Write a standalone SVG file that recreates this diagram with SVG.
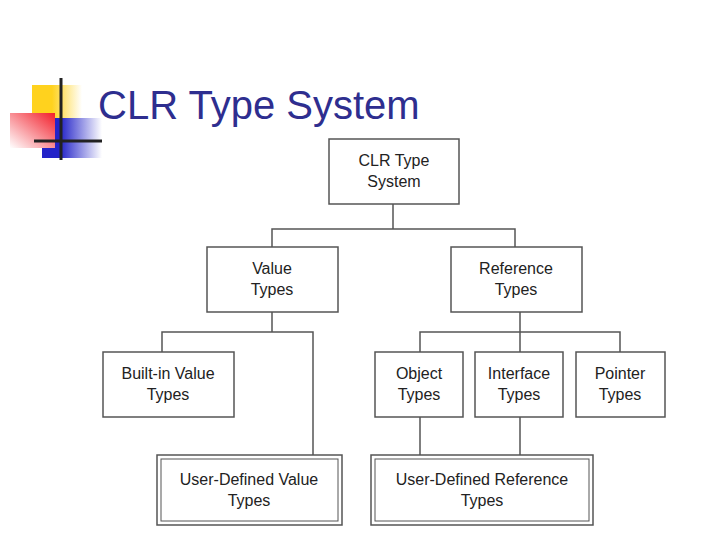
<svg xmlns="http://www.w3.org/2000/svg" width="720" height="540" viewBox="0 0 720 540">
<style>
.b{fill:#fff;stroke:#555;stroke-width:1.5}
.i{fill:none;stroke:#555;stroke-width:1}
.t{font-family:"Liberation Sans",Arial,sans-serif;font-size:16px;fill:#222;text-anchor:middle}
.c{fill:none;stroke:#555;stroke-width:1.5}
</style>
<defs>
<linearGradient id="gy" x1="0" x2="1"><stop offset="0.4" stop-color="#FFD21E"/><stop offset="1" stop-color="#fff"/></linearGradient>
<linearGradient id="gr" x1="1" y1="0" x2="0" y2="1"><stop offset="0" stop-color="#F21E2A"/><stop offset="1" stop-color="#fff"/></linearGradient>
<linearGradient id="gb" x1="0" x2="1"><stop offset="0.3" stop-color="#2323C8"/><stop offset="1" stop-color="#fff"/></linearGradient>
</defs>
<rect width="720" height="540" fill="#fff"/>
<g id="logo">
<rect x="32" y="85" width="50" height="36" fill="url(#gy)"/>
<rect x="42" y="118" width="60" height="40" fill="url(#gb)"/>
<rect x="10" y="113" width="45" height="35" fill="url(#gr)"/>
<line x1="61" y1="78" x2="61" y2="160" stroke="#222" stroke-width="3"/>
<line x1="34" y1="141" x2="102" y2="141" stroke="#222" stroke-width="3"/>
</g>
<text x="98" y="119" font-family="Liberation Sans,Arial,sans-serif" font-size="40" fill="#2E2E8F">CLR Type System</text>
<g id="connectors">
<path class="c" d="M393 204V229M272 247V229H515V247"/>
<path class="c" d="M272 312V332M162 352V332H313V455"/>
<path class="c" d="M520 312V352M420 352V332H620V352"/>
<path class="c" d="M420 417V455M520 417V455"/>
</g>
<g id="clr"><rect class="b" x="329" y="139" width="130" height="65"/><text class="t" x="394" y="166">CLR Type</text><text class="t" x="394" y="187">System</text></g>
<g id="value"><rect class="b" x="207" y="247" width="131" height="65"/><text class="t" x="272" y="274">Value</text><text class="t" x="272" y="295">Types</text></g>
<g id="reference"><rect class="b" x="451" y="247" width="131" height="65"/><text class="t" x="516" y="274">Reference</text><text class="t" x="516" y="295">Types</text></g>
<g id="builtin"><rect class="b" x="103" y="352" width="131" height="65"/><text class="t" x="168" y="379">Built-in Value</text><text class="t" x="168" y="400">Types</text></g>
<g id="object"><rect class="b" x="375" y="352" width="88" height="65"/><text class="t" x="419" y="379">Object</text><text class="t" x="419" y="400">Types</text></g>
<g id="interface"><rect class="b" x="475" y="352" width="88" height="65"/><text class="t" x="519" y="379">Interface</text><text class="t" x="519" y="400">Types</text></g>
<g id="pointer"><rect class="b" x="576" y="352" width="89" height="65"/><text class="t" x="620" y="379">Pointer</text><text class="t" x="620" y="400">Types</text></g>
<g id="udv"><rect class="b" x="157" y="455" width="185" height="70"/><rect class="i" x="161" y="459" width="177" height="62"/><text class="t" x="249" y="485">User-Defined Value</text><text class="t" x="249" y="506">Types</text></g>
<g id="udr"><rect class="b" x="371" y="455" width="222" height="70"/><rect class="i" x="375" y="459" width="214" height="62"/><text class="t" x="482" y="485">User-Defined Reference</text><text class="t" x="482" y="506">Types</text></g>
</svg>
